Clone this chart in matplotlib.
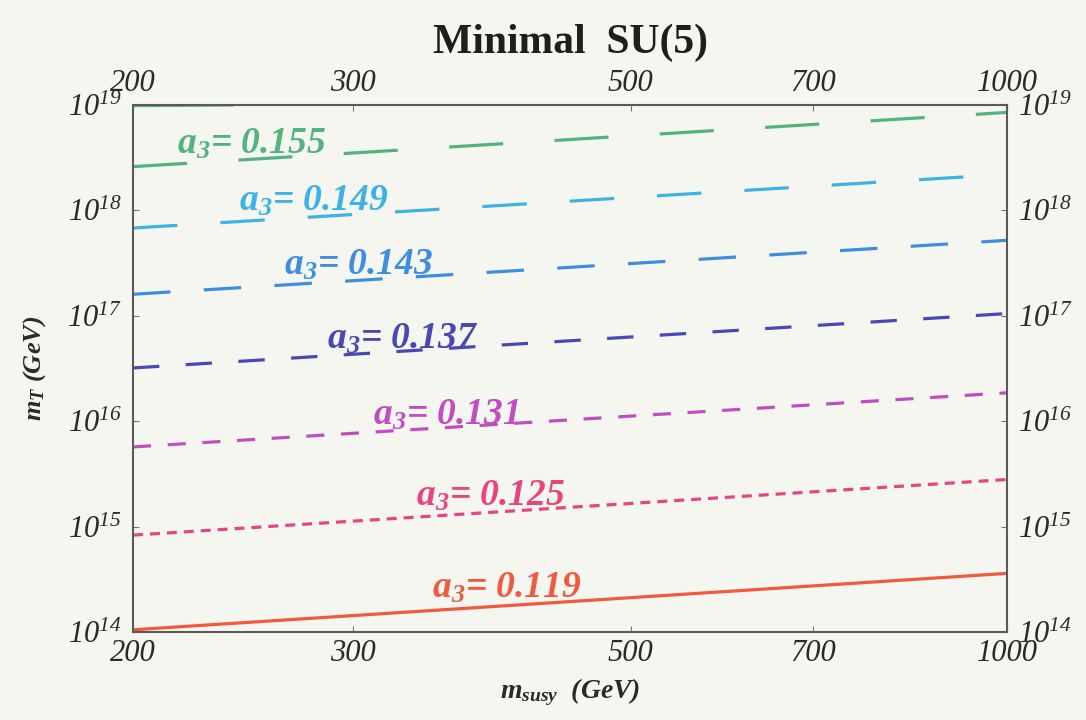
import matplotlib
matplotlib.use("Agg")
import matplotlib.pyplot as plt

plt.rcParams['font.family'] = ['Liberation Serif', 'DejaVu Serif']
plt.rcParams['font.style'] = 'italic'
plt.rcParams['mathtext.fontset'] = 'custom'
plt.rcParams['mathtext.rm'] = 'Liberation Serif:italic'
plt.rcParams['mathtext.it'] = 'Liberation Serif:italic'
plt.rcParams['mathtext.bf'] = 'Liberation Serif:bold:italic'
plt.rcParams['lines.scale_dashes'] = False

# Data
m_susy = [200, 1000]
alpha3 = ["0.155", "0.149", "0.143", "0.137", "0.131", "0.125", "0.119"]
m_T = [
    [2.6e18, 8.5e18],
    [6.8e17, 2.2e18],
    [1.6e17, 5.2e17],
    [3.2e16, 1.05e17],
    [5.7e15, 1.86e16],
    [8.3e14, 2.8e15],
    [1.05e14, 3.6e14],
]
top_x = [200, 240]
top_y = [9.85e18, 1.0e19]
x_ticks = [200, 300, 500, 700, 1000]
y_ticks = [1e14, 1e15, 1e16, 1e17, 1e18, 1e19]

colors = ['#52b47c', '#3cb2e6', '#3d8ee0', '#4a48b6', '#c24cc2', '#e8457e', '#f2593f']
dashes = [(0, (39, 37)), (0, (32, 31)), (0, (27, 24)), (0, (19, 19)),
          (0, (13, 12)), (0, (7.2, 5)), '-']
label_pos = [(217, 4.3e18), (243, 1.22e18), (264, 3.0e17), (286, 6.0e16),
             (311, 1.15e16), (337, 1.95e15), (347, 2.6e14)]

bg = '#f6f6f1'
fig = plt.figure(figsize=(10.86, 7.2), dpi=100, facecolor=bg)
ax = fig.add_axes([0.1225, 0.1222, 0.8048, 0.732])
ax.set_facecolor(bg)

for yv, c, ls in zip(m_T, colors, dashes):
    ax.plot(m_susy, yv, color=c, lw=2.3, linestyle=ls, solid_capstyle='butt')
ax.plot(top_x, top_y, color=colors[0], lw=2.3)

for (lx, ly), c, a in zip(label_pos, colors, alpha3):
    ax.text(lx, ly, r"$\mathbf{a}_\mathbf{3}$= " + a, color=c, fontsize=27,
            style='italic', weight='bold', ha='left', va='center')

ax.set_xscale('log')
ax.set_yscale('log')
ax.set_xlim(200, 1000)
ax.set_ylim(1e14, 1e19)
ax.minorticks_off()
ax.set_xticks(x_ticks)
ax.set_xticklabels([str(v) for v in x_ticks])
ax.set_yticks(y_ticks)
ax.set_yticklabels([r"$10^{%d}$" % e for e in range(14, 20)])
ax.tick_params(axis='both', direction='in', length=4, width=0.8, color='#777777',
               top=True, right=True, labeltop=True, labelright=True,
               labelsize=22, labelcolor='#2a2a2a')
ax.tick_params(axis='x', pad=5)
ax.tick_params(axis='y', pad=8)

for s in ax.spines.values():
    s.set_color('#5a5a5a')
    s.set_linewidth(1.5)

ax.set_xlabel(r"$\mathbf{m}_{\mathbf{susy}}$  (GeV)", fontsize=20,
              style='italic', weight='bold', labelpad=6, color='#2a2a2a')
ax.set_ylabel(r"$\mathbf{m}_{\mathbf{T}}$ (GeV)", fontsize=19,
              style='italic', weight='bold', labelpad=14, color='#2a2a2a')
fig.text(0.525, 0.94, "Minimal  SU(5)", fontsize=30, style='normal',
         weight='bold', ha='center', va='center', color='#1e1e1e')

fig.savefig("out.png", dpi=100, facecolor=bg)
